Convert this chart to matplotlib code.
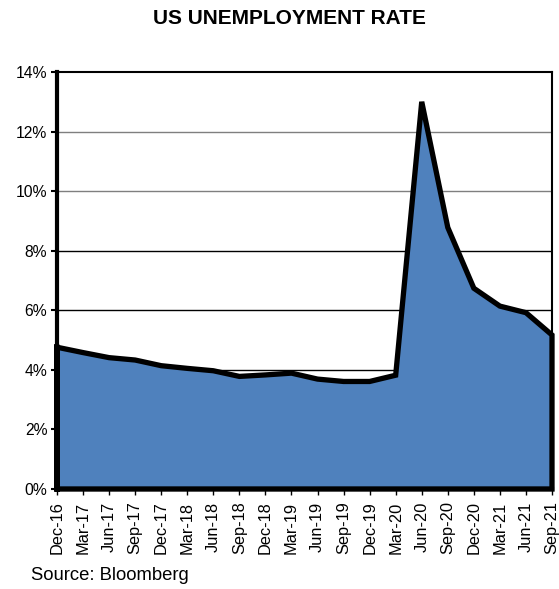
import matplotlib
matplotlib.use("Agg")
import matplotlib.pyplot as plt
from matplotlib.ticker import FuncFormatter
import numpy as np

dates = ["Dec-16", "Mar-17", "Jun-17", "Sep-17", "Dec-17", "Mar-18", "Jun-18",
         "Sep-18", "Dec-18", "Mar-19", "Jun-19", "Sep-19", "Dec-19", "Mar-20",
         "Jun-20", "Sep-20", "Dec-20", "Mar-21", "Jun-21", "Sep-21"]
rate = [4.76, 4.58, 4.41, 4.33, 4.14, 4.05, 3.97, 3.78, 3.83, 3.89, 3.69,
        3.61, 3.61, 3.82, 13.0, 8.78, 6.74, 6.14, 5.92, 5.17]
yticks = [0, 2, 4, 6, 8, 10, 12, 14]

plt.rcParams['font.family'] = ['Liberation Sans', 'DejaVu Sans']

fig = plt.figure(figsize=(5.59, 5.89), dpi=100)
ax = fig.add_axes([57/559, 100/589, (552-57)/559, (489-72)/589])

x = np.arange(len(dates))
ax.fill_between(x, 0, rate, facecolor='#4F81BD', edgecolor='none', zorder=2)
xs = np.concatenate([[x[0]], x, [x[-1]], [x[0]], [x[0]]])
ys = np.concatenate([[0], rate, [0], [0], [rate[0]]])
ax.plot(xs, ys, color='black', lw=3.8, solid_joinstyle='miter', zorder=3, clip_on=False)

ax.set_xlim(0, len(dates) - 1)
ax.set_ylim(0, 14)
ax.set_yticks(yticks)
ax.yaxis.set_major_formatter(FuncFormatter(lambda v, p: f"{v:.0f}%"))
ax.set_xticks(x)
ax.set_xticklabels(dates, rotation=90, fontsize=11.8)
ax.tick_params(axis='y', labelsize=11.3, direction='out', length=4, width=1.5, pad=3)
ax.tick_params(axis='x', direction='out', length=4, width=1, pad=5)

ax.yaxis.grid(True, zorder=1)
ax.set_axisbelow(True)
cols = {0: 'none', 2: 'black', 4: 'black', 6: 'black', 8: 'black', 10: '#7f7f7f', 12: '#7f7f7f', 14: 'none'}
for t, gl in zip(yticks, ax.get_ygridlines()):
    gl.set_color(cols[t])
    gl.set_linewidth(1.0)

for s in ['top', 'right']:
    ax.spines[s].set_linewidth(1.5)
for s in ['left', 'bottom']:
    ax.spines[s].set_linewidth(3)

fig.text(289/559, 1 - 18/589, "US UNEMPLOYMENT RATE", ha='center', va='center',
         fontsize=15, fontweight='bold')
fig.text(31/559, 1 - 575/589, "Source: Bloomberg", ha='left', va='center', fontsize=13.3)

fig.savefig("out.png", dpi=100)
